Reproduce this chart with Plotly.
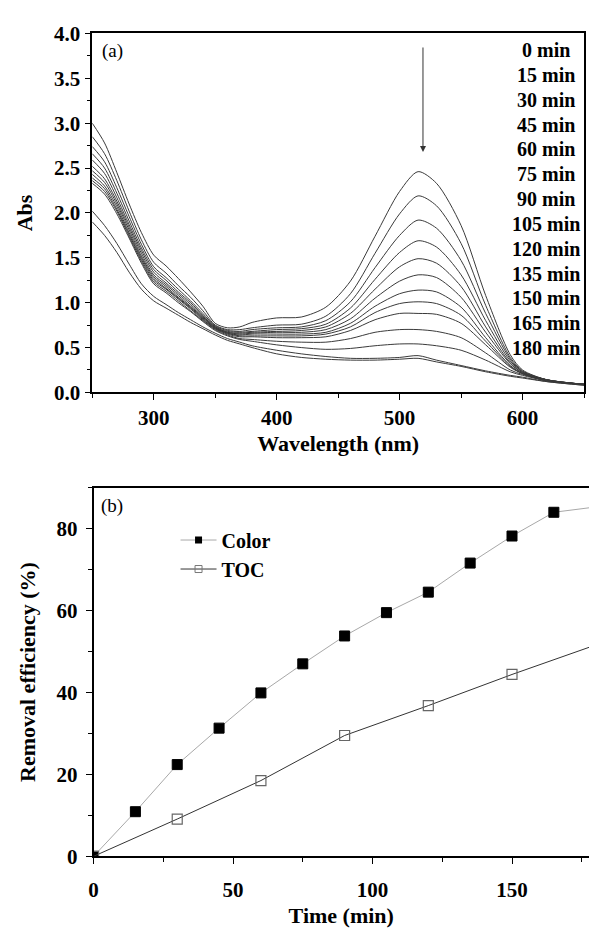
import plotly.graph_objects as go

# ---------------- data: panel (a) UV-vis spectra ----------------
wavelength = [250, 260, 270, 280, 290, 300, 310, 320, 330, 340, 350, 360, 370, 380,
              400, 420, 440, 460, 480, 500, 515, 530, 550, 570, 590, 600, 620, 650]

abs_0 = [3.00, 2.78, 2.45, 2.10, 1.78, 1.53, 1.41, 1.27, 1.12, 0.96, 0.77, 0.72, 0.73, 0.78,
         0.83, 0.84, 0.95, 1.24, 1.74, 2.24, 2.46, 2.33, 1.86, 1.08, 0.42, 0.25, 0.14, 0.09]
abs_15 = [2.85, 2.66, 2.36, 2.02, 1.70, 1.45, 1.33, 1.19, 1.06, 0.91, 0.75, 0.70, 0.70, 0.72,
          0.75, 0.76, 0.85, 1.10, 1.55, 1.99, 2.19, 2.08, 1.66, 0.97, 0.39, 0.24, 0.14, 0.09]
abs_30 = [2.74, 2.57, 2.28, 1.96, 1.65, 1.40, 1.28, 1.15, 1.02, 0.88, 0.74, 0.69, 0.68, 0.70,
          0.72, 0.73, 0.80, 1.01, 1.39, 1.75, 1.92, 1.83, 1.47, 0.88, 0.37, 0.23, 0.14, 0.09]
abs_45 = [2.66, 2.50, 2.22, 1.91, 1.61, 1.37, 1.25, 1.12, 1.00, 0.86, 0.73, 0.68, 0.67, 0.68,
          0.70, 0.71, 0.76, 0.94, 1.26, 1.56, 1.69, 1.62, 1.31, 0.80, 0.35, 0.23, 0.14, 0.09]
abs_60 = [2.59, 2.44, 2.17, 1.87, 1.58, 1.34, 1.22, 1.10, 0.98, 0.85, 0.73, 0.67, 0.66, 0.67,
          0.68, 0.69, 0.73, 0.88, 1.15, 1.40, 1.49, 1.44, 1.18, 0.73, 0.33, 0.22, 0.14, 0.09]
abs_75 = [2.52, 2.38, 2.13, 1.84, 1.55, 1.31, 1.20, 1.08, 0.96, 0.84, 0.72, 0.67, 0.65, 0.66,
          0.67, 0.67, 0.70, 0.82, 1.05, 1.24, 1.31, 1.28, 1.06, 0.67, 0.32, 0.22, 0.14, 0.09]
abs_90 = [2.47, 2.34, 2.10, 1.81, 1.52, 1.29, 1.18, 1.06, 0.95, 0.83, 0.72, 0.66, 0.64, 0.65,
          0.65, 0.65, 0.67, 0.77, 0.96, 1.10, 1.14, 1.12, 0.95, 0.61, 0.30, 0.21, 0.13, 0.09]
abs_105 = [2.43, 2.30, 2.07, 1.78, 1.50, 1.27, 1.16, 1.05, 0.94, 0.82, 0.71, 0.66, 0.63, 0.63,
           0.63, 0.63, 0.65, 0.73, 0.89, 0.99, 1.01, 0.99, 0.86, 0.57, 0.29, 0.21, 0.13, 0.09]
abs_120 = [2.39, 2.27, 2.04, 1.76, 1.48, 1.25, 1.15, 1.04, 0.93, 0.81, 0.71, 0.65, 0.62, 0.62,
           0.61, 0.61, 0.62, 0.69, 0.81, 0.88, 0.88, 0.87, 0.77, 0.53, 0.28, 0.21, 0.13, 0.09]
abs_135 = [2.36, 2.24, 2.02, 1.74, 1.46, 1.23, 1.13, 1.02, 0.91, 0.80, 0.70, 0.64, 0.60, 0.59,
           0.57, 0.56, 0.56, 0.60, 0.67, 0.70, 0.70, 0.68, 0.61, 0.44, 0.25, 0.20, 0.13, 0.09]
abs_150 = [2.33, 2.21, 1.99, 1.72, 1.44, 1.21, 1.11, 1.00, 0.90, 0.79, 0.69, 0.63, 0.59, 0.57,
           0.53, 0.50, 0.48, 0.49, 0.52, 0.54, 0.54, 0.52, 0.47, 0.36, 0.23, 0.19, 0.13, 0.09]
abs_165 = [2.02, 1.86, 1.66, 1.43, 1.21, 1.07, 0.98, 0.89, 0.81, 0.73, 0.66, 0.60, 0.56, 0.52,
           0.47, 0.43, 0.40, 0.38, 0.38, 0.39, 0.41, 0.36, 0.30, 0.24, 0.19, 0.17, 0.12, 0.08]
abs_180 = [1.90, 1.75, 1.56, 1.34, 1.15, 1.02, 0.94, 0.86, 0.78, 0.71, 0.64, 0.58, 0.54, 0.50,
           0.43, 0.39, 0.37, 0.36, 0.36, 0.37, 0.38, 0.34, 0.29, 0.23, 0.18, 0.16, 0.12, 0.08]

time_labels = ["0 min", "15 min", "30 min", "45 min", "60 min", "75 min", "90 min",
               "105 min", "120 min", "135 min", "150 min", "165 min", "180 min"]
spectra = [abs_0, abs_15, abs_30, abs_45, abs_60, abs_75, abs_90,
           abs_105, abs_120, abs_135, abs_150, abs_165, abs_180]

# ---------------- data: panel (b) removal efficiency ----------------
time_color = [0, 15, 30, 45, 60, 75, 90, 105, 120, 135, 150, 165, 180]
color_removal = [0, 10.9, 22.4, 31.3, 39.9, 47.0, 53.8, 59.5, 64.5, 71.6, 78.2, 84.0, 85.3]
time_toc = [0, 30, 60, 90, 120, 150, 180]
toc_removal = [0, 9.1, 18.5, 29.5, 36.8, 44.4, 51.6]

SERIF = "Liberation Serif"
W, H = 589, 930

fig = go.Figure()

for lab, ys in zip(time_labels, spectra):
    fig.add_trace(go.Scatter(
        x=wavelength, y=ys, mode="lines", name=lab, showlegend=False,
        line=dict(color="#3a3a3a", width=1, shape="spline", smoothing=0.8),
        xaxis="x", yaxis="y"))

color_line = dict(color="#a8a8a8", width=1)
toc_line = dict(color="#333333", width=1)

fig.add_trace(go.Scatter(
    x=time_color, y=color_removal, mode="lines+markers", name="Color", showlegend=False,
    line=color_line,
    marker=dict(symbol="square", size=10, color="black", line=dict(color="black", width=1)),
    xaxis="x2", yaxis="y2"))
fig.add_trace(go.Scatter(
    x=time_toc, y=toc_removal, mode="lines+markers", name="TOC", showlegend=False,
    line=toc_line,
    marker=dict(symbol="square-open", size=10, color="#666666", line=dict(width=1.2)),
    xaxis="x2", yaxis="y2"))

# legend entries (smaller symbols, as in the original key)
fig.add_trace(go.Scatter(
    x=[None], y=[None], mode="lines+markers", name="Color", line=color_line,
    marker=dict(symbol="square", size=7, color="black"), xaxis="x2", yaxis="y2"))
fig.add_trace(go.Scatter(
    x=[None], y=[None], mode="lines+markers", name="TOC", line=toc_line,
    marker=dict(symbol="square-open", size=7, color="#777777", line=dict(width=1)),
    xaxis="x2", yaxis="y2"))

tickfont = dict(family=SERIF, size=21, color="black", weight="bold")
titlefont = dict(family=SERIF, size=22, color="black", weight="bold")
axis_common = dict(showline=True, linecolor="black", linewidth=1.5, ticks="outside",
                   ticklen=6, tickwidth=1.2, tickcolor="black", showgrid=False,
                   zeroline=False, tickfont=tickfont)

fig.update_layout(
    width=W, height=H, margin=dict(l=0, r=0, t=0, b=0),
    paper_bgcolor="white", plot_bgcolor="white",
    xaxis=dict(domain=[88 / W, 584 / W], anchor="y", range=[250, 650],
               tickvals=[300, 400, 500, 600], mirror=True,
               minor=dict(tickvals=[250, 350, 450, 550, 650], ticks="outside", ticklen=4,
                          tickcolor="black"),
               title=dict(text="Wavelength (nm)", font=titlefont, standoff=6),
               **axis_common),
    yaxis=dict(domain=[1 - 390.5 / H, 1 - 22 / H], anchor="x", range=[0, 4],
               dtick=0.5, tickformat=".1f", mirror=True,
               minor=dict(dtick=0.25, ticks="outside", ticklen=4, tickcolor="black"),
               title=dict(text="Abs", font=titlefont, standoff=15),
               **axis_common),
    xaxis2=dict(domain=[89.3 / W, 1.0], anchor="y2", range=[0, 177.6],
                tickvals=[0, 50, 100, 150], mirror=True, ticklabelstandoff=8,
                minor=dict(tickvals=[25, 75, 125, 175], ticks="outside", ticklen=4,
                           tickcolor="black"),
                title=dict(text="Time (min)", font=titlefont, standoff=6),
                **axis_common),
    yaxis2=dict(domain=[1 - 866.7 / H, 1 - 488.3 / H], anchor="x2", range=[0, 90],
                tickvals=[0, 20, 40, 60, 80], mirror=False, ticklabelstandoff=4,
                minor=dict(tickvals=[10, 30, 50, 70, 90], ticks="outside", ticklen=4,
                           tickcolor="black"),
                title=dict(text="Removal efficiency (%)", font=titlefont, standoff=15),
                **axis_common),
    legend=dict(x=172 / W, y=1 - 522 / H, xanchor="left", yanchor="top",
                bgcolor="rgba(0,0,0,0)", font=dict(family=SERIF, size=20, color="black",
                                                   weight="bold"),
                tracegroupgap=0, itemwidth=36),
    showlegend=True,
)

# panel labels
fig.add_annotation(text="(a)", xref="paper", yref="paper", x=96 / W, y=1 - 40 / H,
                   xanchor="left", yanchor="middle", showarrow=False,
                   font=dict(family=SERIF, size=19, color="black"))
fig.add_annotation(text="(b)", xref="paper", yref="paper", x=95 / W, y=1 - 507 / H,
                   xanchor="left", yanchor="middle", showarrow=False,
                   font=dict(family=SERIF, size=19, color="black"))

# time labels on panel (a)
for i, lab in enumerate(time_labels):
    fig.add_annotation(text=lab, xref="paper", yref="paper", x=546 / W,
                       y=1 - (39 + i * 25.5) / H, xanchor="center", yanchor="middle",
                       showarrow=False,
                       font=dict(family=SERIF, size=20, color="black", weight="bold"))

# downward arrow above the 515 nm band
fig.add_annotation(x=519, y=2.68, ax=519, ay=3.86, xref="x", yref="y", axref="x", ayref="y",
                   text="", showarrow=True, arrowhead=2, arrowsize=1.2, arrowwidth=1,
                   arrowcolor="#333333")

fig.write_html("out.html")
